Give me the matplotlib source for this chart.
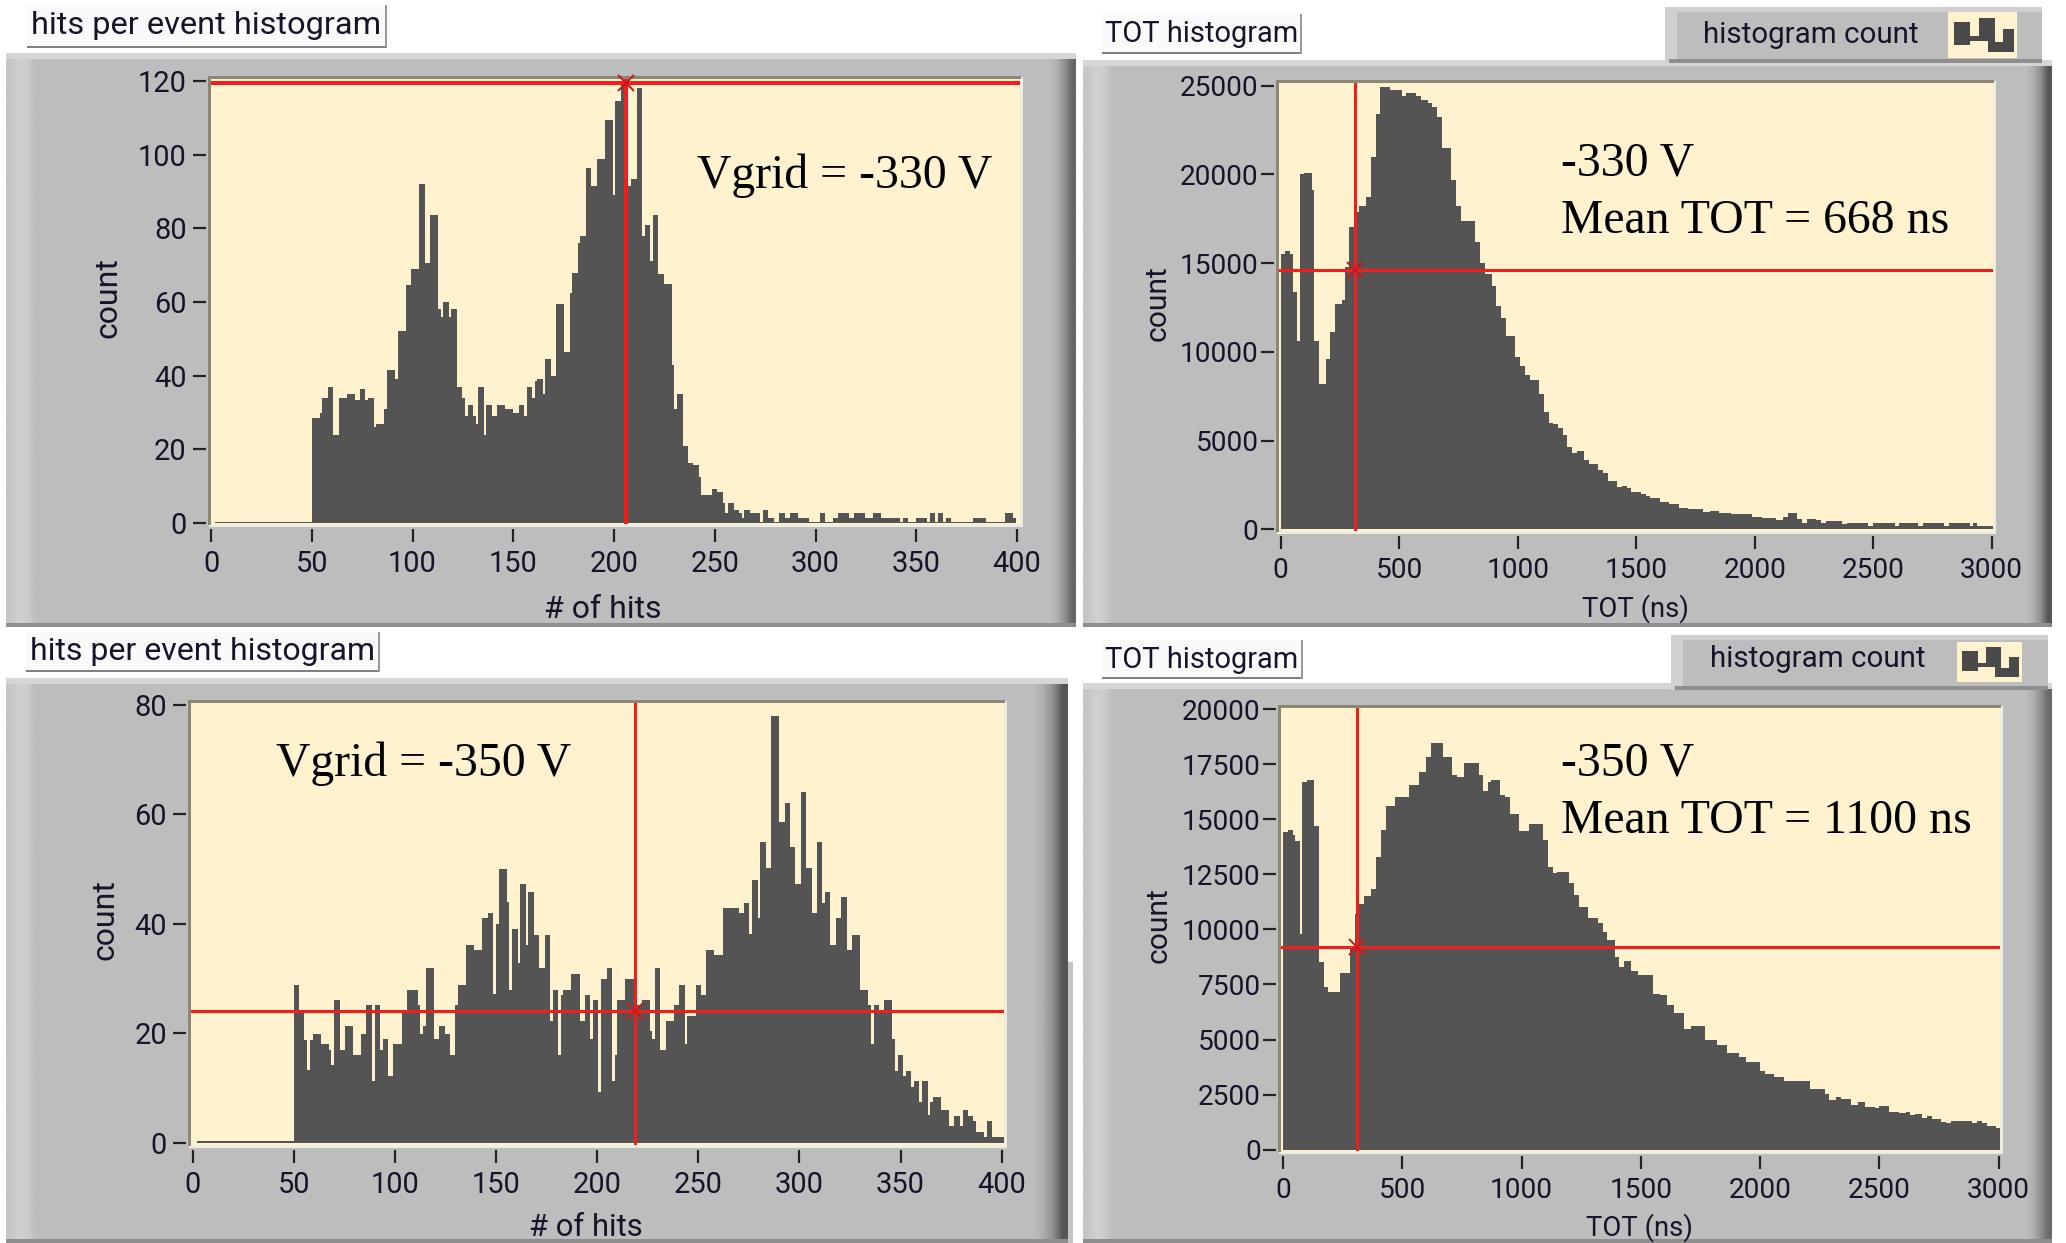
import numpy as np
import matplotlib
matplotlib.use("Agg")
import matplotlib.pyplot as plt
from matplotlib.patches import Rectangle, Polygon

W, H = 2066, 1243

hits_330_counts = [0.4, 28.5, 30, 34, 37, 24, 34, 35, 33.5, 36.5, 33.5, 34, 26, 27, 31, 41.5, 39, 52, 64.5, 69, 92, 70.5, 83.5, 58, 56, 60, 56, 58, 37, 34, 29, 32, 29, 27, 37, 24, 32, 29, 32, 31, 30, 32, 29, 37, 34, 38.5, 39, 35, 44.5, 40, 59.5, 46.5, 62.5, 68, 76, 78, 96.5, 91.5, 98.7, 109.5, 89, 114.5, 119.5, 91.5, 93.5, 118, 78, 81, 71, 83.5, 67.5, 65, 43, 31, 35,
                   20.8, 16.4, 15.7, 12.6, 7.7, 9.2, 8.4, 5.5, 2.6, 5.5, 3.4, 2.6, 1.3, 3.4, 2.6, 0.4, 3.4, 1.3, 0.4, 2.6, 1.3, 2.6, 1.3, 0.4, 2.6, 0.4, 1.3, 2.6, 1.3, 2.6, 1.3, 2.6, 1.3, 0.4, 1.3, 0.4, 1.3, 0.4, 2.6, 0.4, 2.6, 0.4, 1.3, 0.4, 1.3, 0.4, 2.6, 1.3]
hits_330_runs = [36, 3, 1, 2, 2, 2, 3, 3, 2, 2, 1, 2, 1, 3, 1, 3, 1, 3, 2, 3, 2, 2, 3, 1, 1, 2, 1, 2, 2, 1, 1, 2, 1, 1, 2, 1, 2, 2, 3, 3, 2, 2, 1, 2, 1, 1, 2, 1, 2, 2, 3, 2, 1, 2, 1, 2, 2, 2, 3, 3, 1, 2, 2, 2, 2, 2, 1, 2, 1, 2, 2, 3, 1, 1, 2,
                 2, 2, 2, 1, 4, 2, 2, 1, 1, 2, 2, 1, 1, 2, 4, 1, 2, 2, 2, 2, 2, 3, 4, 4, 2, 3, 2, 4, 2, 4, 3, 3, 7, 1, 2, 3, 4, 1, 2, 1, 2, 1, 2, 8, 5, 7, 3, 1]

hits_350_counts = [0.4, 28.9, 24, 18.8, 13.25, 18.8, 19.9, 18, 16.9, 14.2, 26, 17, 21.3, 16, 19.8, 25.1, 11.3, 25.1, 17, 19, 12.2, 18, 24, 28, 25.1, 19.9, 21.3, 31.9, 19, 21.3, 19.9, 16, 25.1, 28.9, 36.2, 35.3, 41, 42, 27.1, 40, 50, 44, 28, 39, 32.9, 47.2, 36.2, 45.8, 38, 31.9, 38, 22.2, 28, 16, 27, 28, 30.9, 22.2, 27, 19, 26, 9.3, 29.9, 31.9, 11.3, 16, 26, 29.9, 25.1, 26, 20.5, 19, 31.9, 17, 22.2, 25.1, 28.9, 18, 23.2, 28.9, 27, 35.3, 34.3, 42.9, 42,
                   43.9, 38.2, 48.1, 41, 54.9, 50.2, 78, 58.7, 62.1, 54, 47.3, 64.1, 50.2, 42, 54.9, 43.9, 45.8, 36.2, 41, 44.9, 35.3, 38, 28, 25.1, 18, 25.1, 24.2, 26, 19, 13.1, 16, 12.2, 13.1, 10.2, 11.2, 7.4, 11.2, 5, 7.4, 8.4, 6, 3, 4.9, 3, 6, 4.9, 4, 2, 1, 4, 1]
hits_350_runs = [36, 2, 2, 1, 1, 1, 3, 3, 1, 1, 2, 2, 3, 3, 2, 2, 1, 2, 1, 2, 2, 3, 2, 4, 1, 1, 1, 3, 2, 2, 2, 2, 1, 3, 3, 3, 2, 2, 1, 1, 3, 1, 1, 2, 1, 2, 1, 2, 2, 2, 2, 1, 2, 1, 1, 3, 3, 2, 2, 1, 2, 1, 2, 2, 1, 1, 3, 3, 3, 3, 1, 1, 2, 2, 3, 2, 2, 1, 3, 2, 2, 3, 3, 6, 2,
                 2, 1, 2, 1, 2, 2, 3, 2, 2, 2, 2, 2, 2, 2, 2, 1, 2, 2, 2, 2, 2, 3, 3, 1, 1, 2, 2, 3, 1, 1, 2, 1, 2, 1, 2, 1, 2, 1, 1, 3, 3, 2, 2, 1, 2, 2, 1, 3, 1, 2, 5]

tot_330_counts = [15.5, 15.7, 15.5, 13.4, 10.6, 20.0, 20.1, 19.1, 10.6, 8.2, 9.6, 11.1, 12.7, 12.9, 14.8, 17.05, 17.9, 18.2, 18.75, 21, 23.4, 24.9, 24.75, 24.4, 24.6, 24.4, 24.2, 24, 23.8, 23.25, 21.5, 19.7, 18.2, 17.4, 16.2, 15, 14.4, 13.7, 12.6, 11.9, 10.9, 9.7, 9.2, 8.7, 8.4, 7.6, 6.6, 6, 5.95, 5.7, 5.3, 4.65, 4.3, 4.4, 3.9, 3.7, 3.35, 3.15, 2.7, 2.4, 2.45, 2.3, 2.1, 2, 1.9, 1.75, 1.55, 1.45, 1.2, 1.15, 1.0, 1.05, 0.9, 0.88, 0.68, 0.62, 0.53,
                  0.7, 0.9, 0.6, 0.38, 0.6, 0.5, 0.34, 0.49, 0.3, 0.34, 0.2, 0.34, 0.2, 0.34, 0.2, 0.34, 0.2, 0.34, 0.2, 0.34, 0.2, 0.05]
tot_330_runs = [2, 2, 1, 2, 1, 2, 3, 1, 2, 3, 2, 2, 3, 1, 2, 2, 2, 3, 2, 2, 2, 4, 5, 2, 4, 2, 3, 2, 2, 2, 4, 2, 2, 6, 2, 2, 3, 2, 2, 2, 4, 2, 2, 2, 4, 2, 2, 2, 2, 2, 2, 2, 2, 3, 2, 4, 2, 2, 4, 2, 2, 2, 4, 2, 2, 4, 4, 4, 4, 6, 3, 4, 5, 9, 4, 6, 3,
                2, 4, 2, 2, 4, 2, 2, 7, 2, 9, 2, 9, 2, 8, 2, 9, 2, 9, 1, 2, 7, 1]

tot_350_counts = [14.4, 14.5, 14.3, 14, 9.8, 16.7, 16.8, 14.7, 8.5, 7.4, 7.15, 8, 9.2, 10.7, 11.15, 11.5, 11.85, 13.3, 14.5, 15.6, 16, 16.55, 17.15, 17.8, 18.45, 17.8, 17, 16.9, 17.55, 17, 16.3, 16.7, 16.8, 16.1, 16, 15.25, 14.45, 14.8, 14.05, 12.85, 12.55, 12.6, 12.1, 11.55, 11, 10.5, 10.3, 9.9, 9.5, 8.75, 8.3, 8.55, 8.1, 7.95, 7.05, 7, 6.55, 6.2, 5.5, 5.6, 5, 4.75, 4.4, 4.2, 4, 3.55, 3.45, 3.3, 3.1, 2.75, 2.55,
                  2.25, 2.4, 2.3, 2.03, 2.15, 1.95, 1.88, 2, 1.73, 1.65, 1.73, 1.57, 1.62, 1.42, 1.53, 1.41, 1.27, 1.2, 1.3, 1.2, 1.3, 1.2, 1.07, 0.97]
tot_350_runs = [2, 2, 1, 2, 1, 2, 3, 2, 2, 2, 5, 4, 2, 2, 2, 3, 2, 2, 2, 4, 6, 4, 3, 2, 5, 4, 2, 3, 6, 2, 2, 1, 4, 2, 2, 4, 4, 6, 2, 2, 2, 5, 2, 2, 4, 4, 2, 2, 3, 2, 2, 3, 3, 6, 3, 3, 3, 4, 3, 6, 5, 4, 5, 3, 6, 2, 4, 4, 11, 6, 2,
                3, 2, 4, 3, 3, 4, 2, 4, 4, 3, 2, 2, 3, 2, 2, 4, 2, 2, 9, 2, 2, 2, 4, 2]

hits_ticks = [0, 50, 100, 150, 200, 250, 300, 350, 400]
tot_ticks = [0, 500, 1000, 1500, 2000, 2500, 3000]
yticks_a = [0, 20, 40, 60, 80, 100, 120]
yticks_b = [0, 5000, 10000, 15000, 20000, 25000]
yticks_c = [0, 20, 40, 60, 80]
yticks_d = [0, 2500, 5000, 7500, 10000, 12500, 15000, 17500, 20000]

cursor_a = (206, 119.5)
cursor_b = (313, 14613)
cursor_c = (218.5, 24)
cursor_d = (310, 9205)

GREY = "#bdbdbd"
CREAM = "#fef3ce"
DARK = "#545454"
RED = "#f51c1c"
UI = ["Roboto", "DejaVu Sans"]
SERIF = ["Liberation Serif", "DejaVu Serif"]
INK = "#15152a"
px = 72 / 100

fig = plt.figure(figsize=(W / 100, H / 100), dpi=100, facecolor="white")
bg = fig.add_axes([0, 0, 1, 1], zorder=-5)
bg.set_axis_off()


def grad(x0, x1, y0, y1, cols, horizontal=True):
    from matplotlib.colors import to_rgb
    arr = np.array([to_rgb(c) for c in cols])
    arr = arr[np.newaxis, :, :] if horizontal else arr[:, np.newaxis, :]
    bg.imshow(arr, extent=(x0, x1, y1, y0), aspect="auto", interpolation="bilinear", zorder=2)


def panel(x0, y0, x1, y1, right_w=32, end="#666666"):
    bg.add_patch(Rectangle((x0, y0), x1 - x0, y1 - y0, fc=GREY, ec="none", zorder=1))
    grad(x0, x0 + 34, y0, y1, ["#c6c6c6", "#d0d0d0", "#cccccc", GREY])
    grad(x1 - right_w, x1, y0, y1, [GREY, "#b0b0b0", "#909090", end])
    bg.add_patch(Rectangle((x0, y0), x1 - x0, 6, fc="#d6d6d6", ec="none", zorder=3))
    bg.add_patch(Rectangle((x0, y1 - 4), x1 - x0, 4, fc="#8e8e8e", ec="none", zorder=3))


def button(x0, y0, x1, y1):
    bg.add_patch(Rectangle((x0, y0), x1 - x0, y1 - y0, fc="#fafafa", ec="none", zorder=3))
    bg.add_patch(Rectangle((x0, y1 - 2), x1 - x0, 2, fc="#808080", ec="none", zorder=4))
    bg.add_patch(Rectangle((x1 - 2, y0), 2, y1 - y0, fc="#9a9a9a", ec="none", zorder=4))


def tab(x0, y0, x1, y1, ix0, iy0, ix1, iy1):
    bg.add_patch(Rectangle((x0, y0), x1 - x0, y1 - y0, fc=GREY, ec="none", zorder=5))
    bg.add_patch(Rectangle((x0, y0), 12, y1 - y0, fc="#d0d0d0", ec="none", zorder=5))
    bg.add_patch(Rectangle((x0, y0), x1 - x0, 5, fc="#d0d0d0", ec="none", zorder=5))
    bg.add_patch(Rectangle((x0 + 4, y1 - 4), x1 - x0 - 4, 4, fc="#8e8e8e", ec="none", zorder=5))
    bg.add_patch(Rectangle((ix0, iy0), ix1 - ix0, iy1 - iy0, fc=CREAM, ec="none", zorder=6))
    w, h = ix1 - ix0, iy1 - iy0
    pts = [(0.08, 0.72), (0.08, 0.22), (0.32, 0.22), (0.32, 0.52), (0.45, 0.52), (0.45, 0.12), (0.68, 0.12),
           (0.68, 0.65), (0.80, 0.65), (0.80, 0.38), (0.95, 0.38), (0.95, 0.88), (0.58, 0.88), (0.58, 0.62),
           (0.32, 0.62), (0.32, 0.72)]
    bg.add_patch(Polygon([(ix0 + a * w, iy0 + b * h) for a, b in pts], fc="#4a4a4a", ec="none", zorder=7))


panel(6, 53, 1076, 627, 30)
panel(1083, 60, 2052, 627, 30, "#555555")
panel(6, 678, 1068, 1243, 40, "#555555")
bg.add_patch(Rectangle((1068, 962), 5, 281, fc="#c4c4c4", ec="none", zorder=1))
panel(1083, 683, 2052, 1243, 30, "#6a6a6a")
button(27, 5, 387, 48)
button(1102, 14, 1302, 54)
button(26, 632, 380, 672)
button(1102, 640, 1303, 679)
tab(1665, 7, 2042, 63, 1948, 12, 2017, 58)
tab(1671, 635, 2048, 690, 1957, 642, 2022, 682)
bg.set_xlim(0, W)
bg.set_ylim(H, 0)


def make_axes(L, R, T, B, x0px, x1px, x1val, y0px, y1px, y1val, xticks, yticks, size, ypad):
    bg.add_patch(Rectangle((L - 2, T - 2), R - L + 5, B - T + 5, fc="#efece0", ec="none", zorder=8))
    bg.add_patch(Rectangle((L - 3, T - 3), R - L + 4, 3, fc="#8a8775", ec="none", zorder=9))
    bg.add_patch(Rectangle((L - 3, T - 3), 3, B - T + 4, fc="#8a8775", ec="none", zorder=9))
    ax = fig.add_axes([L / W, 1 - B / H, (R - L) / W, (B - T) / H], facecolor=CREAM)
    sx = (x1px - x0px) / x1val
    sy = (y0px - y1px) / y1val
    ax.set_xlim((L - x0px) / sx, (R - x0px) / sx)
    ax.set_ylim((y0px - B) / sy, (y0px - T) / sy)
    for name in ("top", "right"):
        ax.spines[name].set_visible(False)
    for name in ("left", "bottom"):
        ax.spines[name].set_position(("outward", 5 * px))
        ax.spines[name].set_color("none")
    ax.set_xticks(xticks)
    ax.set_yticks(yticks)
    ax.tick_params(axis="both", length=13 * px, width=2.2 * px, color="#222222", labelcolor=INK,
                   labelsize=size * px)
    ax.tick_params(axis="x", pad=8 * px)
    ax.tick_params(axis="y", pad=ypad * px)
    for lab in ax.get_xticklabels() + ax.get_yticklabels():
        lab.set_family(UI)
    return ax


def cursor(ax, pos, lw, ms=16):
    x, y = pos
    ax.axvline(x, color=RED, lw=lw * px, zorder=4)
    ax.axhline(y, color=RED, lw=lw * px, zorder=4)
    ax.plot([x], [y], marker="x", color="#c81a1a", ms=ms * px, mew=2 * px, zorder=5, clip_on=False)


def hits_hist(ax, counts, runs):
    vals = np.repeat(counts, runs)
    edges = 2 + np.arange(len(vals) + 1) * 4 / 3
    ax.stairs(vals, edges, fill=True, color=DARK, lw=0, zorder=2)


def tot_hist(ax, counts, runs):
    vals = np.repeat(counts, runs) * 1000
    edges = np.arange(len(vals) + 1) * 10.0
    ax.stairs(vals, edges, fill=True, color=DARK, lw=0, zorder=2)


axA = make_axes(210.5, 1020, 79, 524, 211, 1017, 400, 523, 81, 120, hits_ticks, yticks_a, 29, 6)
hits_hist(axA, hits_330_counts, hits_330_runs)
cursor(axA, cursor_a, 4)

axB = make_axes(1278.6, 1993, 83, 531, 1280.7, 1991.7, 3000, 529.3, 85.7, 25000, tot_ticks, yticks_b, 28, 2)
tot_hist(axB, tot_330_counts, tot_330_runs)
cursor(axB, cursor_b, 3)

axC = make_axes(191, 1004, 703, 1145, 192.5, 1001.7, 400, 1142.7, 705, 80, hits_ticks, yticks_c, 29, 6)
hits_hist(axC, hits_350_counts, hits_350_runs)
cursor(axC, cursor_c, 3)

axD = make_axes(1280.7, 2000, 708, 1150.7, 1283, 1998.7, 3000, 1149.7, 709, 20000, tot_ticks, yticks_d, 28, 2)
tot_hist(axD, tot_350_counts, tot_350_runs)
cursor(axD, cursor_d, 3)


def t(x, y, s, fam=UI, size=30, **kw):
    kw.setdefault("color", INK)
    fig.text(x / W, 1 - y / H, s, family=fam, fontsize=size * px, **kw)


c = dict(ha="center", va="center")
t(108, 298, "count", size=32, rotation=90, **c)
t(1158, 303, "count", size=30, rotation=90, **c)
t(105, 920, "count", size=32, rotation=90, **c)
t(1159, 925, "count", size=30, rotation=90, **c)
t(603, 609, "# of hits", size=32, **c)
t(586, 1227, "# of hits", size=31, **c)
t(1635, 609, "TOT (ns)", size=27.5, **c)
t(1639, 1228, "TOT (ns)", size=27.5, **c)
t(206, 26, "hits per event histogram", size=32.5, **c)
t(203, 652, "hits per event histogram", size=32, **c)
t(1202, 34, "TOT histogram", size=29, **c)
t(1202, 660, "TOT histogram", size=29, **c)
t(1811, 35, "histogram count", size=29.5, **c)
t(1818, 659, "histogram count", size=29.5, **c)

serif = dict(fam=SERIF, size=47.7, color="black", ha="left", va="baseline")
t(697, 188, "Vgrid = -330 V", **serif)
t(276, 776, "Vgrid = -350 V", **serif)
t(1561, 176, "-330 V", **serif)
t(1561, 233, "Mean TOT = 668 ns", **serif)
t(1561, 776, "-350 V", **serif)
t(1561, 833, "Mean TOT = 1100 ns", **serif)

fig.savefig("out.png", dpi=100, facecolor="white")
